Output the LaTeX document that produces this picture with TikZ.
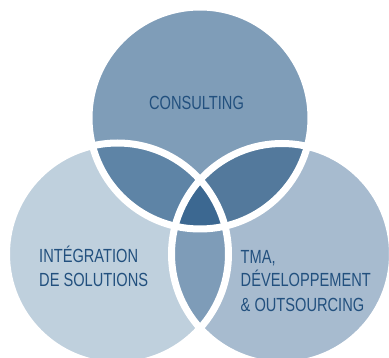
\documentclass[tikz,border=0pt]{standalone}
\usepackage{fontspec}
\setmainfont[FakeStretch=0.77]{Liberation Sans}
\definecolor{cTop}{HTML}{7F9DB8}
\definecolor{cLeft}{HTML}{BFD0DD}
\definecolor{cRight}{HTML}{A7BBCF}
\definecolor{cTL}{HTML}{5E84A6}
\definecolor{cTR}{HTML}{53799C}
\definecolor{cLR}{HTML}{7E9CB8}
\definecolor{cMid}{HTML}{3C6891}
\definecolor{cText}{HTML}{22507E}
\tikzset{
  lbl/.style={anchor=base west, inner sep=0pt, text=cText, font=\fontsize{19}{23.5}\selectfont},
  band/.style={draw=white, line width=7pt}
}
\begin{document}
\begin{tikzpicture}[x=1pt,y=-1pt]
\useasboundingbox (0,0) rectangle (389,358);
\clip (0,0) rectangle (389,358);
\coordinate (T) at (200,118);
\coordinate (L) at (117.5,254);
\coordinate (R) at (282,254);
\def\rT{111}\def\rL{111}\def\rR{110.5}
\fill[cLeft] (L) circle (\rL);
\fill[cRight] (R) circle (\rR);
\fill[cTop] (T) circle (\rT);
\begin{scope}
  \clip (L) circle (\rL);
  \fill[cLR] (R) circle (\rR);
\end{scope}
\begin{scope}
  \clip (T) circle (\rT);
  \fill[cTL] (L) circle (\rL);
  \fill[cTR] (R) circle (\rR);
  \clip (L) circle (\rL);
  \fill[cMid] (R) circle (\rR);
\end{scope}
\draw[band] (T) circle (\rT);
\draw[band] (L) circle (\rL);
\draw[band] (R) circle (\rR);
\node[lbl, anchor=base] (consulting) at (196.5,110) {CONSULTING};
\node[lbl] (integ1) at (39,263) {INTÉGRATION};
\node[lbl] (integ2) at (39,287) {DE SOLUTIONS};
\node[lbl] (tma1) at (240.5,264) {TMA,};
\node[lbl] (tma2) at (240.5,287) {DÉVELOPPEMENT};
\node[lbl] (tma3) at (240.5,311.5) {\& OUTSOURCING};
\end{tikzpicture}
\end{document}
